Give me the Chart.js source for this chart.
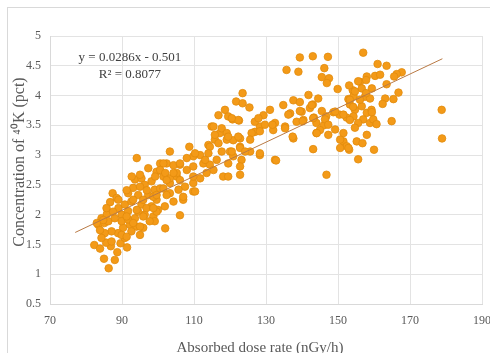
<!DOCTYPE html>
<html>
<head>
<meta charset="utf-8">
<script src="https://cdn.jsdelivr.net/npm/chart.js@4/dist/chart.umd.min.js"></script>
<style>
  html, body { margin: 0; padding: 0; background: #fff; overflow: hidden; }
  #wrap { position: relative; width: 490px; height: 353px; }
  #frame { position: absolute; left: 7px; top: 7px; width: 500px; height: 360px; border: 1px solid #d9d9d9; box-sizing: border-box; }
  #grafico { position: absolute; left: 0; top: 0; }
</style>
</head>
<body>
<div id="wrap">
  <div id="frame"></div>
  <canvas id="grafico" width="490" height="353"></canvas>
</div>
<script>
// absorbed dose rate (nGy/h) and 40K concentration (pct)
const doseRate = [
  82.3, 83.9, 85, 86.3, 88, 88.7, 91.4, 86.9, 89.6, 85.6,
  87.4, 88.5, 86.7, 84.3, 85.8, 89, 83.4, 85.1, 86.2, 88,
  89.9, 91.7, 90.8, 92.6, 91.7, 93.1, 93.6, 95.4, 96.3, 98.2,
  99.1, 97.3, 94.5, 95.4, 98.2, 99.6, 96.3, 98.7, 93.6, 92.2,
  90.3, 88.9, 87.1, 85.2, 84.3, 87.1, 90.8, 94, 95.9, 99.1,
  100, 89.9, 87.5, 85.7, 92.6, 91.7, 94.5, 96.8, 97.7, 95,
  89.9,
  94.1, 103.3, 89, 91.3, 92.7, 95, 97.3, 99.6, 100.6, 102.4,
  104.3, 105.2, 103.3, 100.6, 98.7, 95.9, 95, 93.1, 91.3, 99.6,
  102, 95, 93.1, 96.9, 101.5, 94.1, 95.9, 91.3, 83.9, 84.8,
  83,
  114.9, 117.2, 119.1, 115.8, 117.7, 120, 114, 108.7, 111.7, 109.8,
  108, 106.1, 101.5, 100.6, 99.2, 102, 103.3, 105.2, 108, 109.8,
  112.6, 114.4, 115.4, 118.1, 113.5, 111.7, 109.8, 107.5, 105.7, 103.3,
  101.5, 99.6, 107, 104.3, 109.8, 106.1, 98.7, 116.3, 119.5, 120.9,
  123.5, 121.7, 123.5, 125.4, 118.6, 116.8, 119.5, 120.7, 122.5, 115.4,
  117.7, 119.1, 115.8, 120.9, 122.8, 116.8, 114.4, 122.8, 125.6, 128.3,
  126.9, 128.3, 126.9, 129.3, 131.1, 132, 132.5, 123.2, 122.8, 122.8,
  110.3, 113.1, 114, 106.1, 109.8, 106.1, 104.3, 102.4, 110.3, 107,
  102.4, 101.9,
  135.7, 139, 134.8, 137.6, 139.4, 141.8, 136.7, 139.9, 127.9, 128.3,
  126, 132.5, 135.3, 138.5, 140.4, 137.6, 122.3, 120.5, 119.5, 122.3,
  125.6, 122.8, 124.2, 128.3, 120.5, 119.5,
  139.4, 143, 147.2, 146.2, 145.5, 147.5, 146.9, 149.9, 157, 161,
  163.5, 167.7, 166.3, 165.6, 158, 160.3, 161.7, 156.1, 154.1, 156.6,
  159.4, 163.5, 166.8, 152.9, 157.5, 158.9, 163.1, 165.4, 144.5, 178.8,
  143, 142.2, 139.4, 140.2, 143.3, 145.5, 146.7, 144, 146.1, 148.7,
  150.4, 152.4, 144, 147.3, 149.2, 151.5, 143.1, 146.8, 153.1, 154.3,
  155.6, 153.3, 154.7, 156.6, 158, 159.3, 154.3, 157, 158.9, 155.6,
  154.7, 158, 151.5, 152.4, 153.1, 150.6, 155.2, 156.8, 155.6, 160,
  162.4, 159.4, 159.8, 160.7, 164.9, 178.9,
  136.2, 142.7, 149.2, 151.5, 153.3, 143.1, 146.4, 147.3, 145, 135.3,
  129.7, 137.4, 144.1, 150.6, 152.9, 132.8, 154.2, 153.3, 156.1, 154.7,
  157.8, 157.8, 131.8
];
const k40 = [
  1.49, 1.43, 1.26, 1.10, 1.24, 1.37, 1.45, 1.47, 1.52, 1.53,
  2.36, 2.28, 2.21, 1.94, 2.01, 2.11, 1.83, 1.86, 1.89, 1.94,
  2.0, 2.06, 2.17, 2.22, 2.36, 2.45, 2.59, 2.61, 2.5, 2.56,
  2.42, 2.33, 2.33, 2.17, 2.14, 2.25, 2.0, 1.97, 1.94, 1.83,
  1.78, 1.69, 1.72, 1.69, 1.61, 1.55, 1.61, 1.8, 1.78, 1.89,
  2.08, 1.89, 2.05, 2.11, 1.72, 1.92, 2.05, 2.11, 1.89, 1.66,
  1.66,
  2.95, 3.06, 2.25, 2.41, 2.64, 2.67, 2.78, 2.72, 2.86, 2.86,
  2.83, 2.64, 2.53, 2.44, 2.3, 1.97, 1.8, 1.86, 1.97, 2.05,
  1.77, 2.47, 2.25, 2.41, 2.64, 2.08, 2.25, 1.63, 1.74, 1.91,
  1.86,
  3.48, 3.37, 3.26, 3.26, 3.06, 3.06, 3.17, 3.14, 3.0, 2.98,
  2.95, 2.84, 2.86, 2.75, 2.64, 2.7, 2.61, 2.7, 2.75, 2.81,
  2.86, 2.84, 2.75, 2.64, 2.7, 2.61, 2.53, 2.47, 2.42, 2.36,
  2.44, 2.33, 2.25, 2.22, 2.39, 1.99, 2.11, 2.92, 2.86, 2.98,
  4.04, 3.9, 3.87, 3.8, 3.76, 3.67, 3.65, 3.6, 3.58, 3.48,
  3.45, 3.37, 3.34, 3.25, 3.28, 3.2, 3.14, 3.14, 3.06, 3.0,
  3.39, 3.48, 3.56, 3.67, 3.76, 3.42, 2.92, 2.92, 2.81, 2.67,
  3.03, 2.92, 3.03, 2.86, 2.64, 2.58, 2.7, 2.58, 2.39, 2.3,
  2.33, 2.14,
  4.43, 4.4, 3.84, 3.92, 3.89, 4.01, 3.7, 3.73, 3.62, 3.4,
  3.37, 3.54, 3.48, 3.56, 3.59, 3.28, 3.59, 3.62, 3.31, 3.31,
  3.26, 3.12, 3.06, 3.03, 3.06, 2.64,
  4.64, 4.66, 4.65, 4.46, 4.31, 4.29, 4.21, 4.11, 4.72, 4.53,
  4.5, 4.39, 4.36, 4.32, 4.32, 4.33, 4.35, 4.23, 4.09, 4.12,
  4.12, 4.19, 4.05, 3.94, 3.98, 3.95, 3.95, 3.94, 3.95, 3.76,
  3.85, 3.79, 3.74, 3.57, 3.63, 3.74, 3.65, 3.54, 3.5, 3.72,
  3.68, 3.63, 3.37, 3.34, 3.43, 3.37, 3.1, 2.67, 4.17, 3.99,
  4.24, 3.85, 3.76, 3.82, 3.71, 3.76, 3.65, 3.6, 3.54, 3.54,
  3.46, 3.34, 3.23, 3.15, 3.09, 3.12, 3.23, 3.2, 2.93, 3.09,
  3.86, 3.72, 3.6, 3.52, 3.57, 3.28,
  3.68, 3.84, 3.73, 3.68, 3.59, 3.62, 3.6, 3.51, 3.42, 3.45,
  3.51, 3.31, 3.37, 3.26, 3.12, 2.91, 3.81, 3.93, 3.93, 4.07,
  4.26, 4.04, 3.51
];
// linear fit shown on the chart
const slope = 0.0286, intercept = -0.501;
const fitRange = [77, 179];
const xTicks = [70, 90, 110, 130, 150, 170, 190];
const eqText = ['y = 0.0286x - 0.501', 'R² = 0.8077'];
const xTitle = 'Absorbed dose rate (nGy/h)';
const yTitle = 'Concentration of ⁴⁰K (pct)';

const serif = '"Liberation Serif", "Times New Roman", serif';

const points = doseRate.map((x, i) => ({x: x, y: k40[i]}));
const fitLine = fitRange.map(x => ({x: x, y: slope * x + intercept}));

// equation box + axis titles (titles drawn by hand so they sit where the original has them)
const textBits = {
  id: 'textBits',
  afterDatasetsDraw(chart) {
    const ctx = chart.ctx;
    const xs = chart.scales.x, ys = chart.scales.y;
    ctx.save();
    ctx.font = '13px ' + serif;
    ctx.fillStyle = '#404040';
    ctx.textAlign = 'center';
    ctx.textBaseline = 'middle';
    ctx.fillText(eqText[0], xs.getPixelForValue(92.2), ys.getPixelForValue(4.63));
    ctx.fillText(eqText[1], xs.getPixelForValue(92.2), ys.getPixelForValue(4.35));

    ctx.fillStyle = '#595959';
    ctx.font = '15px ' + serif;
    ctx.fillText(xTitle, (xs.left + xs.right) / 2 - 6, 348);

    ctx.font = '16px ' + serif;
    ctx.translate(20, 162);
    ctx.rotate(-Math.PI / 2);
    ctx.fillText(yTitle, 0, 0);
    ctx.restore();
  }
};

const graph = new Chart(document.getElementById('grafico').getContext('2d'), {
  type: 'scatter',
  data: {
    datasets: [{
      type: 'line',
      data: fitLine,
      borderColor: '#b97a45',
      borderWidth: 1,
      pointRadius: 0,
      fill: false,
      order: 0
    }, {
      data: points,
      backgroundColor: '#f39a18',
      borderColor: '#e28b0c',
      borderWidth: 0.8,
      pointRadius: 3.8,
      order: 1
    }]
  },
  options: {
    responsive: false,
    animation: false,
    events: [],
    layout: { padding: { left: 0, top: 36, right: 8, bottom: 0 } },
    plugins: { legend: { display: false }, tooltip: { enabled: false } },
    scales: {
      x: {
        type: 'linear',
        min: 70, max: 190,
        afterBuildTicks: s => { s.ticks = xTicks.map(v => ({value: v})); },
        afterFit: s => { s.height = 49; s.paddingRight = 0; s.paddingLeft = 0; },
        grid: { color: '#e3e3e3', drawTicks: false },
        border: { color: '#d9d9d9' },
        ticks: { color: '#595959', font: { family: serif, size: 12 }, padding: 10, maxRotation: 0 }
      },
      y: {
        min: 0.5, max: 5,
        ticks: { stepSize: 0.5, color: '#595959', font: { family: serif, size: 12 }, padding: 9,
                 callback: v => String(v) },
        afterFit: s => { s.width = 50; s.paddingTop = 0; s.paddingBottom = 0; },
        grid: { color: '#e3e3e3', drawTicks: false },
        border: { color: '#d9d9d9' }
      }
    }
  },
  plugins: [textBits]
});
</script>
</body>
</html>
